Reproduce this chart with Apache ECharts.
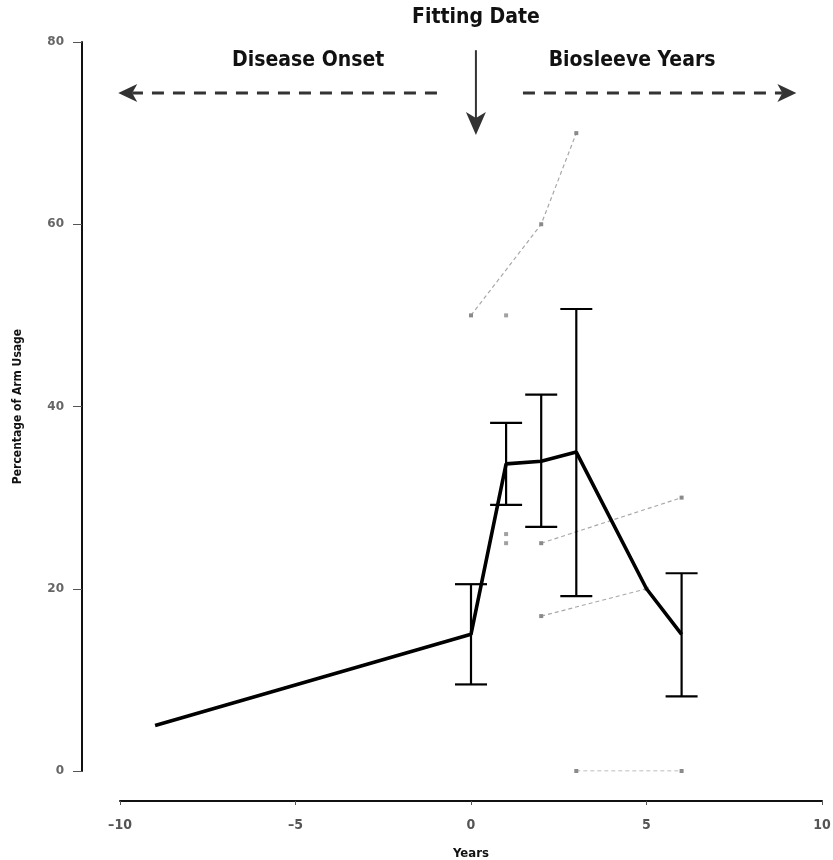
<!DOCTYPE html>
<html>
<head>
<meta charset="utf-8">
<script src="https://cdn.jsdelivr.net/npm/echarts@6/dist/echarts.min.js"></script>
<style>
  html, body { margin: 0; padding: 0; background: #fff; }
  #chart { width: 833px; height: 860px; }
</style>
</head>
<body>
<div id="chart"></div>
<script>
// Mean arm usage by year relative to fitting
const years = [-9, 0, 1, 2, 3, 5, 6];
const meanUsage = [5, 15, 33.7, 34, 35, 20, 15];

// Error bar extents (low / high) at the years that have them
const errYears = [0, 1, 2, 3, 6];
const errLow = [9.5, 29.2, 26.8, 19.2, 8.2];
const errHigh = [20.5, 38.2, 41.3, 50.7, 21.7];

// Individual patient trajectories
const patientA = [[0, 50], [2, 60], [3, 70]];
const patientB = [[1, 50]];
const patientC = [[1, 26]];
const patientD = [[1, 25]];
const patientE = [[2, 25], [6, 30]];
const patientF = [[2, 17], [5, 20]];
const patientG = [[3, 0], [6, 0]];

// Axis ticks
const xTicks = [-10, -5, 0, 5, 10];
const yTicks = [0, 20, 40, 60, 80];

const FONT = '"Liberation Sans Narrow", "DejaVu Sans Condensed", "Liberation Sans", sans-serif';

const chart = echarts.init(document.getElementById('chart'), null, { renderer: 'canvas' });

const greyLine = (name, data) => ({
  name, type: 'line', data,
  symbol: 'rect', symbolSize: 4, showSymbol: true,
  itemStyle: { color: '#8a8a8a' },
  lineStyle: { color: '#a8a8a8', width: 1.2, type: [4, 3] },
  z: 2, silent: true
});
const greyPoint = (name, data) => ({
  name, type: 'scatter', data,
  symbol: 'rect', symbolSize: 4,
  itemStyle: { color: '#8a8a8a' },
  z: 2, silent: true
});

chart.setOption({
  animation: false,
  backgroundColor: '#fff',
  grid: { left: 120, right: 11, top: 42, bottom: 89, outerBoundsMode: 'none', containLabel: false },
  xAxis: {
    type: 'value', min: xTicks[0], max: xTicks[xTicks.length - 1], interval: 5,
    offset: 30,
    name: 'Years', nameLocation: 'middle', nameGap: 46,
    nameTextStyle: { fontFamily: FONT, fontWeight: 'bold', fontSize: 13, color: '#111' },
    axisLine: { onZero: false, lineStyle: { color: '#111', width: 2 } },
    axisTick: { show: true, length: 4, lineStyle: { color: '#555', width: 1 } },
    axisLabel: { fontFamily: FONT, fontWeight: 'bold', fontSize: 14, color: '#555', margin: 17,
      formatter: v => v < 0 ? '\u2013' + Math.abs(v) : String(v) },
    splitLine: { show: false }
  },
  yAxis: {
    type: 'value', min: yTicks[0], max: yTicks[yTicks.length - 1], interval: 20,
    offset: 38,
    name: 'Percentage of Arm Usage', nameLocation: 'middle', nameGap: 58, nameRotate: 90,
    nameTextStyle: { fontFamily: FONT, fontWeight: 'bold', fontSize: 12, color: '#111' },
    axisLine: { show: true, onZero: false, lineStyle: { color: '#111', width: 2 } },
    axisTick: { show: true, length: 9, lineStyle: { color: '#555', width: 1 } },
    axisLabel: { fontFamily: '"DejaVu Sans", sans-serif', fontWeight: 'bold', fontSize: 12, color: '#666', margin: 18 },
    splitLine: { show: false }
  },
  series: [
    greyLine('A', patientA),
    greyPoint('B', patientB),
    greyPoint('C', patientC),
    greyPoint('D', patientD),
    greyLine('E', patientE),
    greyLine('F', patientF),
    greyLine('G', patientG),
    {
      name: 'error', type: 'custom', z: 3, silent: true,
      data: errYears.map((x, i) => [x, errLow[i], errHigh[i]]),
      renderItem: (params, api) => {
        const x = api.value(0);
        const lo = api.coord([x, api.value(1)]);
        const hi = api.coord([x, api.value(2)]);
        const half = 16;
        const style = { stroke: '#000', lineWidth: 2.2 };
        return {
          type: 'group',
          children: [
            { type: 'line', shape: { x1: lo[0], y1: lo[1], x2: hi[0], y2: hi[1] }, style },
            { type: 'line', shape: { x1: hi[0] - half, y1: hi[1], x2: hi[0] + half, y2: hi[1] }, style },
            { type: 'line', shape: { x1: lo[0] - half, y1: lo[1], x2: lo[0] + half, y2: lo[1] }, style }
          ]
        };
      }
    },
    {
      name: 'mean', type: 'line', z: 4, silent: true,
      data: years.map((x, i) => [x, meanUsage[i]]),
      showSymbol: false, symbol: 'none',
      lineStyle: { color: '#000', width: 3.6 }
    }
  ]
});

// Timeline annotations above the plot, placed in data coordinates
const px = (x, y) => chart.convertToPixel({ gridIndex: 0 }, [x, y]);
const arrowY = 74.4;
const leftTip = px(-10.05, arrowY), leftEnd = px(-0.97, arrowY);
const rightStart = px(1.48, arrowY), rightTip = px(9.27, arrowY);
const downTop = px(0.14, 79.1), downTip = px(0.14, 69.8);
const titlePos = px(0.14, 79.1);
const onsetPos = px(-4.64, 78.0), sleevePos = px(4.59, 78.0);

const dark = '#333';
const head = 19, halfW = 9, notch = 5;
const labelFont = 'bold 21px ' + FONT;
chart.setOption({
  graphic: [
    { type: 'line', shape: { x1: leftEnd[0], y1: leftEnd[1], x2: leftTip[0] + head - notch, y2: leftTip[1] },
      style: { stroke: dark, lineWidth: 3, lineDash: [12, 9] } },
    { type: 'polygon', shape: { points: [[leftTip[0], leftTip[1]], [leftTip[0] + head, leftTip[1] - halfW], [leftTip[0] + head - notch, leftTip[1]], [leftTip[0] + head, leftTip[1] + halfW]] },
      style: { fill: dark } },
    { type: 'line', shape: { x1: rightStart[0], y1: rightStart[1], x2: rightTip[0] - head + notch, y2: rightTip[1] },
      style: { stroke: dark, lineWidth: 3, lineDash: [12, 9] } },
    { type: 'polygon', shape: { points: [[rightTip[0], rightTip[1]], [rightTip[0] - head, rightTip[1] - halfW], [rightTip[0] - head + notch, rightTip[1]], [rightTip[0] - head, rightTip[1] + halfW]] },
      style: { fill: dark } },
    { type: 'line', shape: { x1: downTop[0], y1: downTop[1], x2: downTip[0], y2: downTip[1] - head + notch },
      style: { stroke: dark, lineWidth: 2 } },
    { type: 'polygon', shape: { points: [[downTip[0], downTip[1]], [downTip[0] - 10, downTip[1] - 23], [downTip[0], downTip[1] - 17], [downTip[0] + 10, downTip[1] - 23]] },
      style: { fill: dark } },
    { type: 'text', x: titlePos[0], y: titlePos[1] - 33,
      style: { text: 'Fitting Date', font: labelFont, fill: '#111', align: 'center', verticalAlign: 'middle' } },
    { type: 'text', x: onsetPos[0], y: onsetPos[1],
      style: { text: 'Disease Onset', font: labelFont, fill: '#111', align: 'center', verticalAlign: 'middle' } },
    { type: 'text', x: sleevePos[0], y: sleevePos[1],
      style: { text: 'Biosleeve Years', font: labelFont, fill: '#111', align: 'center', verticalAlign: 'middle' } }
  ]
});
</script>
</body>
</html>
